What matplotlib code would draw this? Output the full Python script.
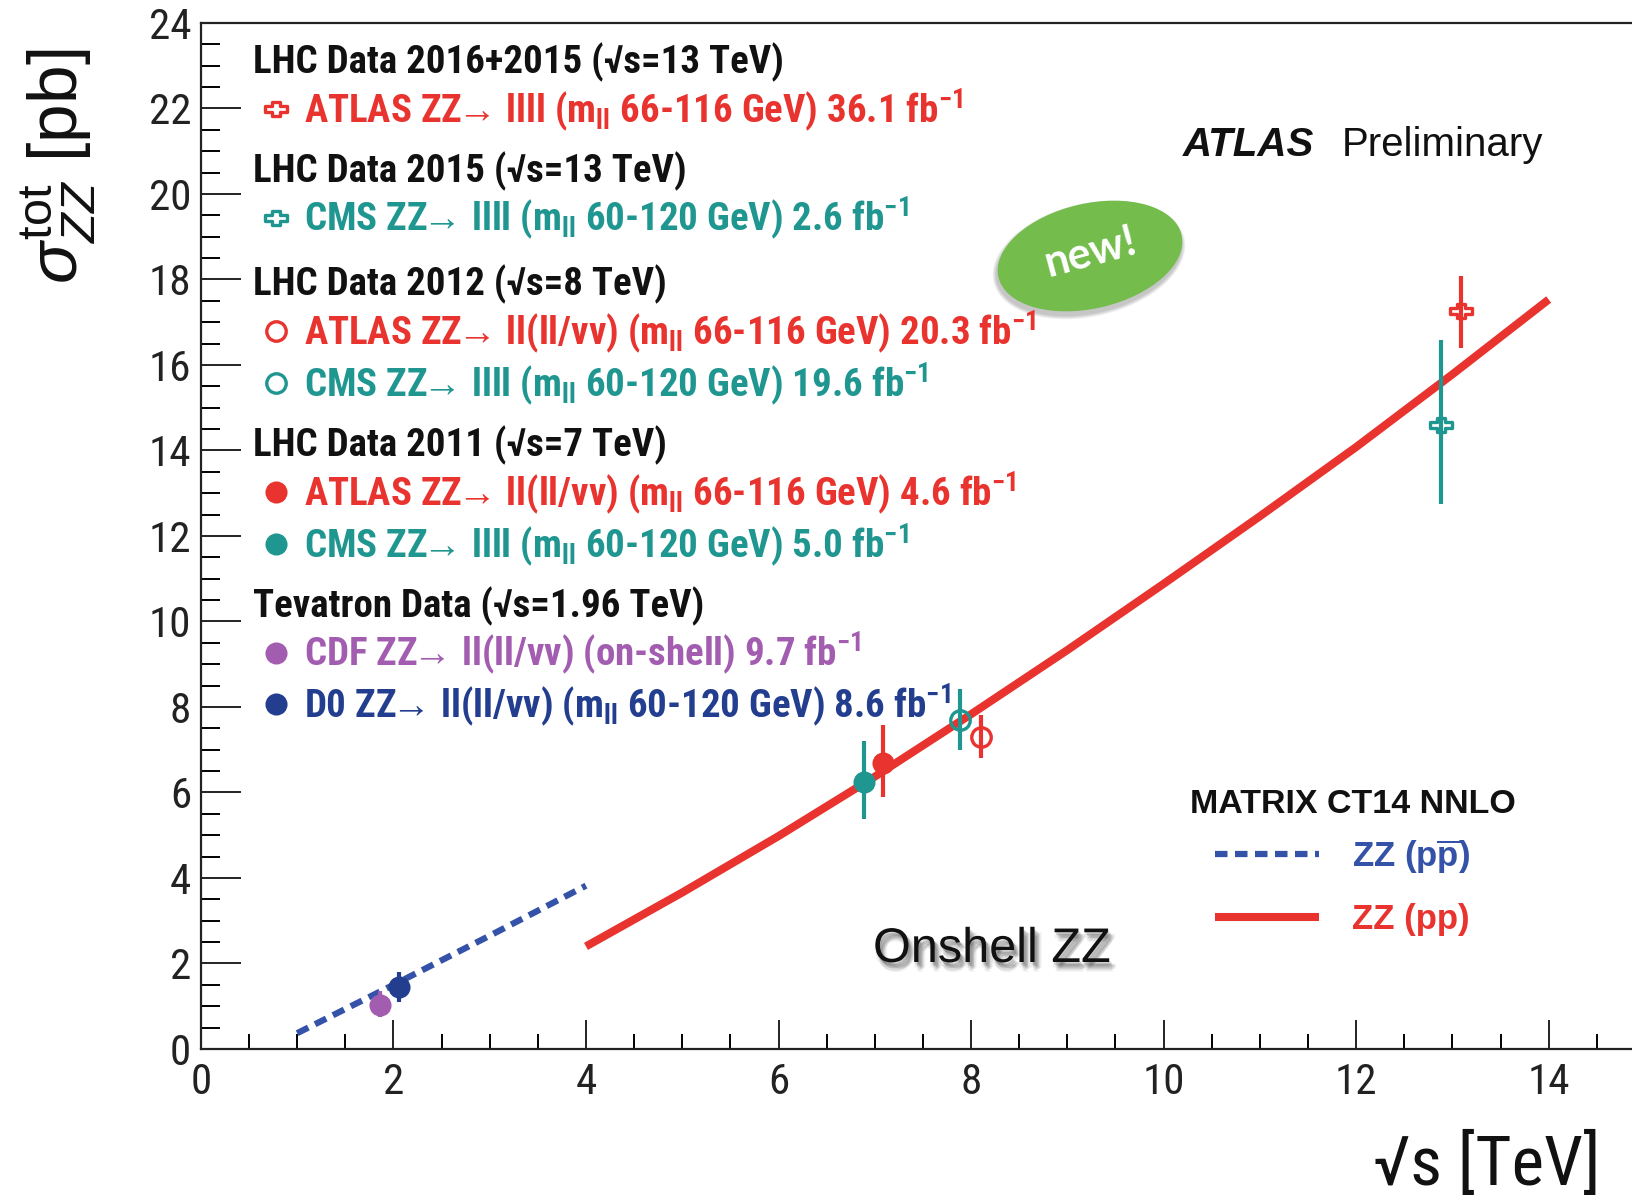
import numpy as np
import matplotlib
matplotlib.use("Agg")
import matplotlib.pyplot as plt
from matplotlib.patches import Ellipse
from matplotlib.path import Path
from matplotlib.ticker import MultipleLocator
import matplotlib.patheffects as pe
import matplotlib.font_manager as fm

# ---------------- data ----------------
# theory: MATRIX CT14 NNLO
ppbar_x = [1.0, 2.0, 3.0, 4.0]
ppbar_y = [0.37, 1.50, 2.65, 3.82]
pp_x = [4, 5, 6, 7, 8, 9, 10, 11, 12, 13, 14]
pp_y = [2.40, 3.66, 4.98, 6.37, 7.83, 9.33, 10.88, 12.46, 14.08, 15.78, 17.53]

# measurements (x slightly shifted for visibility, as in the original)
meas_names = ["ATLAS13", "CMS13", "ATLAS8", "CMS8", "ATLAS7", "CMS7", "CDF", "D0"]
meas_x = [13.09, 12.88, 8.10, 7.88, 7.09, 6.89, 1.86, 2.06]
meas_y = [17.25, 14.60, 7.30, 7.70, 6.70, 6.24, 1.04, 1.44]
meas_err_lo = [0.86, 1.86, 0.50, 0.70, 0.80, 0.86, 0.29, 0.34]
meas_err_hi = [0.83, 1.98, 0.52, 0.71, 0.88, 0.96, 0.32, 0.35]
ARROW = r"$\!\!\rightarrow\!$"
meas_labels = [
    r"ATLAS ZZ" + ARROW + r" llll (m$_{\mathregular{ll}}$ 66-116 GeV) 36.1 fb$^{\mathregular{-1}}$",
    r"CMS ZZ" + ARROW + r" llll (m$_{\mathregular{ll}}$ 60-120 GeV) 2.6 fb$^{\mathregular{-1}}$",
    r"ATLAS ZZ" + ARROW + r" ll(ll/νν) (m$_{\mathregular{ll}}$ 66-116 GeV) 20.3 fb$^{\mathregular{-1}}$",
    r"CMS ZZ" + ARROW + r" llll (m$_{\mathregular{ll}}$ 60-120 GeV) 19.6 fb$^{\mathregular{-1}}$",
    r"ATLAS ZZ" + ARROW + r" ll(ll/νν) (m$_{\mathregular{ll}}$ 66-116 GeV) 4.6 fb$^{\mathregular{-1}}$",
    r"CMS ZZ" + ARROW + r" llll (m$_{\mathregular{ll}}$ 60-120 GeV) 5.0 fb$^{\mathregular{-1}}$",
    r"CDF ZZ" + ARROW + r" ll(ll/νν) (on-shell) 9.7 fb$^{\mathregular{-1}}$",
    r"D0 ZZ" + ARROW + r" ll(ll/νν) (m$_{\mathregular{ll}}$ 60-120 GeV) 8.6 fb$^{\mathregular{-1}}$",
]
group_titles = [
    "LHC Data 2016+2015 (√s=13 TeV)",
    "LHC Data 2015 (√s=13 TeV)",
    "LHC Data 2012 (√s=8 TeV)",
    "LHC Data 2011 (√s=7 TeV)",
    "Tevatron Data (√s=1.96 TeV)",
]
group_members = [[0], [1], [2, 3], [4, 5], [6, 7]]
theory_title = "MATRIX CT14 NNLO"
theory_labels = [r"ZZ (p$\overline{\mathregular{p}}$)", "ZZ (pp)"]
x_ticks = [0, 2, 4, 6, 8, 10, 12, 14]
y_ticks = [0, 2, 4, 6, 8, 10, 12, 14, 16, 18, 20, 22, 24]

# ---------------- style ----------------
RED = "#E8332E"
TEAL = "#1F9690"
PURPLE = "#A35DB0"
NAVY = "#233E8E"
BLUE = "#3352A8"
GREEN = "#74BC4C"

cross = Path([(-1, -0.28), (-0.32, -0.28), (-0.32, -0.62), (0.32, -0.62), (0.32, -0.28),
              (1, -0.28), (1, 0.28), (0.32, 0.28), (0.32, 0.62), (-0.32, 0.62),
              (-0.32, 0.28), (-1, 0.28), (-1, -0.28)], closed=True)
meas_style = [
    dict(color=RED, marker=cross, mfc="none", ms=16),
    dict(color=TEAL, marker=cross, mfc="none", ms=16),
    dict(color=RED, marker="o", mfc="none", ms=14),
    dict(color=TEAL, marker="o", mfc="none", ms=14),
    dict(color=RED, marker="o", mfc=RED, ms=13.5),
    dict(color=TEAL, marker="o", mfc=TEAL, ms=13.5),
    dict(color=PURPLE, marker="o", mfc=PURPLE, ms=13.5),
    dict(color=NAVY, marker="o", mfc=NAVY, ms=13.5),
]

avail = {f.name for f in fm.fontManager.ttflist}
NARROW = next((n for n in ["Liberation Sans Narrow", "Roboto Condensed",
                           "Open Sans Condensed", "Arial Narrow"] if n in avail),
              "Liberation Sans")
WIDE = "Liberation Sans"

plt.rcParams["font.family"] = [NARROW, "Liberation Sans", "DejaVu Sans"]
plt.rcParams["mathtext.fontset"] = "custom"
plt.rcParams["mathtext.rm"] = WIDE
plt.rcParams["mathtext.it"] = WIDE + ":italic"
plt.rcParams["mathtext.bf"] = WIDE + ":bold"

W, H = 1632, 1202
fig = plt.figure(figsize=(W / 100, H / 100), dpi=100)
L, B, T = 200.9, 1049.0, 22.9
ax = fig.add_axes([L / W, 1 - B / H, (W - L) / W, (B - T) / H])
ax.set_xlim(0, (W - L) / 96.27)
ax.set_ylim(0, 24)

for s in ["left", "bottom", "top"]:
    ax.spines[s].set_linewidth(1.6)
    ax.spines[s].set_color("#222222")
ax.spines["right"].set_visible(False)

ax.xaxis.set_major_locator(MultipleLocator(2))
ax.xaxis.set_minor_locator(MultipleLocator(0.5))
ax.yaxis.set_major_locator(MultipleLocator(2))
ax.yaxis.set_minor_locator(MultipleLocator(0.5))
ax.set_xticks(x_ticks)
ax.set_yticks(y_ticks)
ax.tick_params(axis="x", which="major", direction="in", length=21, width=1.4, pad=9,
               labelsize=31, colors="#222222", top=False)
ax.tick_params(axis="x", which="minor", direction="in", length=11, width=1.4, top=False)
ax.tick_params(axis="y", which="major", direction="in", length=29, width=1.4, pad=7,
               labelsize=31, colors="#222222", right=False)
ax.tick_params(axis="y", which="minor", direction="in", length=14, width=1.4, right=False)

# theory curves
l_ppbar, = ax.plot(ppbar_x, ppbar_y, color=BLUE, lw=4.5, dashes=(2.0, 1.2), zorder=3)
l_pp, = ax.plot(pp_x, pp_y, color=RED, lw=5.8, zorder=3, solid_capstyle="butt")

# measurements
handles = []
for i in range(len(meas_x)):
    st = meas_style[i]
    c = ax.errorbar([meas_x[i]], [meas_y[i]], yerr=[[meas_err_lo[i]], [meas_err_hi[i]]],
                    fmt=" ", marker=st["marker"], ms=st["ms"],
                    mfc=st["mfc"], mec=st["color"], mew=2.4, ecolor=st["color"],
                    elinewidth=3, capsize=0, zorder=5)
    handles.append(c[0])

# group legends (top-left)
FS = 28
title_centers = [60.4, 168.6, 282.1, 443.4, 603.7]
for g, title in enumerate(group_titles):
    idx = group_members[g]
    leg = fig.legend([handles[i] for i in idx], [meas_labels[i] for i in idx],
                     loc="upper left",
                     bbox_to_anchor=(252.9 / W, 1 - (title_centers[g] - 17.5) / H),
                     bbox_transform=fig.transFigure, frameon=False, borderpad=0,
                     borderaxespad=0, handlelength=1.2, handletextpad=0.12,
                     labelspacing=0.11, numpoints=1, title=title,
                     title_fontproperties={"size": FS, "weight": "bold", "family": NARROW},
                     prop={"size": FS, "weight": "bold", "family": NARROW},
                     alignment="left",
                     labelcolor=[meas_style[i]["color"] for i in idx])
    leg.get_title().set_color("#111111")

# theory legend
fig.text(1190 / W, 1 - 813 / H, theory_title, fontsize=24.5, fontweight="bold",
         family=WIDE, color="#111111", ha="left", va="baseline")
fig.legend([l_ppbar, l_pp], theory_labels, loc="upper left",
           bbox_to_anchor=(1215 / W, 1 - 837 / H), bbox_transform=fig.transFigure,
           frameon=False, borderpad=0, borderaxespad=0, handlelength=3.0,
           handletextpad=0.95, labelspacing=0.78,
           prop={"size": 25, "weight": "bold", "family": WIDE},
           labelcolor=[BLUE, RED])

# ATLAS Preliminary
fig.text(1183 / W, 1 - 156 / H, "ATLAS", fontsize=29, fontweight="bold", style="italic",
         family=WIDE, color="#111111", ha="left", va="baseline")
fig.text(1342 / W, 1 - 156 / H, "Preliminary", fontsize=29, family=WIDE,
         color="#111111", ha="left", va="baseline")

# Onshell ZZ with soft shadow
shadow = []
for dx, dy, a in [(1, -2, 0.12), (2, -3, 0.12), (3, -4, 0.10), (4, -5, 0.08), (2, -6, 0.07),
                  (5, -4, 0.06), (0, -4, 0.06), (3, -7, 0.05)]:
    shadow.append(pe.SimplePatchShadow(offset=(dx, dy), shadow_rgbFace="black", alpha=a))
shadow.append(pe.Normal())
fig.text(873 / W, 1 - 962 / H, "Onshell ZZ", fontsize=35, family=WIDE,
         color="#111111", ha="left", va="baseline", path_effects=shadow)

# axis titles
fig.text(59 / W, 1 - 166 / H, r"$\sigma^{\mathregular{tot}}_{ZZ}$ [pb]", fontsize=50,
         family=WIDE, rotation=90, ha="center", va="center", color="#111111")
fig.text(1600 / W, 1 - 1166 / H, "√s [TeV]", fontsize=50, family=NARROW,
         ha="right", va="center", color="#111111")

# "new!" badge
for k, a in enumerate([0.06, 0.06, 0.06, 0.06]):
    grow = 0.02 * (k + 1)
    fig.add_artist(Ellipse((10.89, 9.42), 1.88 + grow, 1.05 + grow, angle=13,
                           transform=fig.dpi_scale_trans, color="black", alpha=a, lw=0))
fig.add_artist(Ellipse((10.90, 9.46), 1.88, 1.05, angle=13,
                       transform=fig.dpi_scale_trans, color=GREEN, lw=0))
fig.text(1090 / W, 1 - 252 / H, "new!", fontsize=31, family="Lato", fontweight="bold",
         color="white", rotation=15, ha="center", va="center", rotation_mode="anchor")

fig.savefig("out.png", dpi=100)
